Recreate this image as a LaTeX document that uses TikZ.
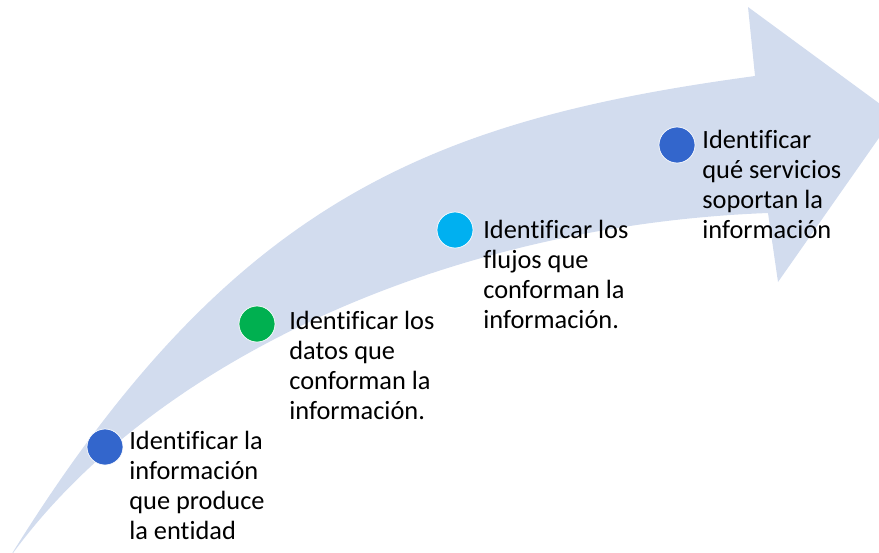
\documentclass[tikz,border=0pt]{standalone}
\usepackage{fontspec}
\setmainfont{Carlito}[Ligatures=NoCommon]
\definecolor{arrowfill}{HTML}{D2DCEE}
\definecolor{dotblue}{HTML}{3366CC}
\definecolor{dotgreen}{HTML}{00B050}
\definecolor{dotcyan}{HTML}{00B0F0}
\begin{document}
\begin{tikzpicture}[x=0.02cm,y=-0.02cm]
        \tikzstyle{dot}=[circle,draw=white,line width=0.4pt,minimum size=0.72cm,inner sep=0pt]
        \tikzstyle{step text}=[anchor=base west,align=left,inner sep=0pt,font=\fontsize{15pt}{17pt}\selectfont]
  \useasboundingbox (0,0) rectangle (879,552);
  % the big curved arrow
  \fill[arrowfill] (8,560) .. controls (230,200) and (430,120) .. (755,76)
    -- (748,7) -- (895,115) -- (778,282) -- (768,213)
    .. controls (450,225) and (150,360) .. cycle;
  \node[dot,fill=dotblue]  (C_1) at (105,447) {};
  \node[dot,fill=dotgreen] (C_2) at (257,324) {};
  \node[dot,fill=dotcyan]  (C_3) at (455,230) {};
  \node[dot,fill=dotblue]  (C_4) at (677,145) {};
  % base of a multi-line node is its last line
  \node[step text] (T_1) at (129,539) {Identificar la\\información\\que produce\\la entidad};
  \node[step text] (T_2) at (289,419) {Identificar los\\datos que\\conforman la\\información.};
  \node[step text] (T_3) at (483,328) {Identificar los\\flujos que\\conforman la\\información.};
  \node[step text] (T_4) at (702,238) {Identificar\\qué servicios\\soportan la\\información};
    \end{tikzpicture}
\end{document}
